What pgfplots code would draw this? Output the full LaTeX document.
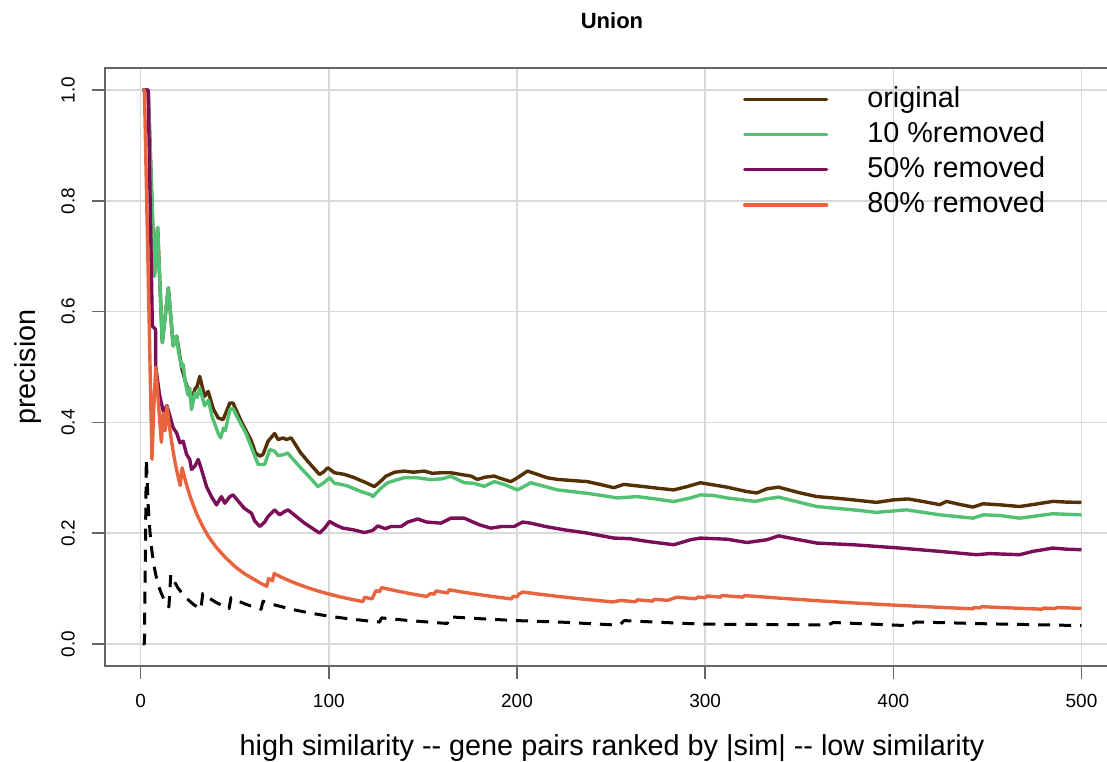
\documentclass[border=0pt]{standalone}
\usepackage{fontspec}
\setmainfont{Liberation Sans}
\usepackage{pgfplots}
\pgfplotsset{compat=1.18}

\definecolor{origc}{HTML}{543005}
\definecolor{tenc}{HTML}{52C272}
\definecolor{fiftyc}{HTML}{7A0E58}
\definecolor{eightyc}{HTML}{E8643E}
\definecolor{gridc}{HTML}{D9D9D9}
\definecolor{framec}{HTML}{666666}

\begin{document}
\begin{tikzpicture}
\begin{axis}[
  at={(105pt,95pt)}, anchor=south west,
  scale only axis, width=1014pt, height=598pt,
  xmin=-18.96, xmax=519.96, ymin=-0.04, ymax=1.04,
  xtick={0,100,200,300,400,500},
  ytick={0,0.2,0.4,0.6,0.8,1.0},
  grid=major, major grid style={gridc, line width=1.4pt},
  axis line style={framec, line width=1.6pt},
  tick style={framec, line width=1.4pt},
  tick align=outside, major tick length=13pt,
  xtick pos=bottom, ytick pos=left,
  tick label style={font=\fontsize{19}{22}\selectfont},
  /pgf/number format/assume math mode=true,
  xticklabel style={yshift=-12pt},
  yticklabel style={/pgf/number format/.cd, fixed, fixed zerofill, precision=1, /tikz/.cd,
                    xshift=-17pt, rotate=90, anchor=south, inner sep=0pt},
  legend style={at={(axis cs:320.1,1.0154)}, anchor=north west,
                draw=none, fill=none, inner sep=0pt, outer sep=0pt, row sep=0pt,
                font=\fontsize{28.8}{32}\selectfont,
                nodes={inner sep=0pt, text height=23.9pt, text depth=7.9pt}},
  legend cell align=left,
  legend image code/.code={%
    \path (0pt,-15.9pt) (121pt,15.9pt);
    \draw[#1, line cap=round] (0pt,0pt) -- (82pt,0pt);},
  every axis plot/.append style={line join=round},
]

% original
\addplot[origc, line width=3.4pt] coordinates {
(1,1) (4,1) (7.3,0.664) (9,0.752) (11.5,0.544) (14.7,0.643) (17.3,0.538) (19.1,0.556)
(21.7,0.50) (23.5,0.477) (27,0.44) (28.8,0.46) (30,0.465) (31.4,0.483) (34,0.447)
(35.9,0.456) (38.5,0.425) (41.2,0.408) (43.8,0.405) (47.4,0.435) (49.1,0.435) (53,0.405)
(58.9,0.366) (61,0.345) (63.3,0.339) (65,0.342) (67.7,0.366) (71.2,0.38) (73,0.369)
(75.7,0.372) (77.4,0.369) (80,0.372) (85,0.345) (90,0.325) (95,0.306) (97,0.31)
(99.5,0.318) (103,0.309) (108.3,0.306) (113.6,0.30) (119.8,0.291) (124.2,0.284)
(127,0.292) (130.4,0.303) (135,0.31) (140.1,0.312) (145,0.31) (150.7,0.312) (155,0.308)
(159.6,0.309) (164.9,0.309) (170,0.306) (175.5,0.303) (179,0.297) (183,0.301)
(187.9,0.303) (192,0.298) (196.7,0.293) (200.3,0.30) (205.6,0.312) (210.9,0.306)
(216,0.30) (221.5,0.297) (229,0.295) (237.4,0.293) (244,0.288) (251.5,0.282)
(256.8,0.288) (262,0.286) (267.4,0.284) (275,0.281) (283.3,0.278) (290.4,0.284)
(297.5,0.291) (304.5,0.287) (311.6,0.283) (322.2,0.275) (327.5,0.2725) (332.8,0.28)
(339,0.283) (350,0.273) (359.3,0.266) (370,0.263) (378.7,0.26) (391.1,0.2555)
(400,0.26) (407.9,0.2617) (416,0.257) (424.7,0.2514) (428.3,0.2573) (435,0.252)
(442.4,0.247) (447.7,0.253) (457,0.251) (467.1,0.248) (475,0.252) (484.8,0.2573)
(492,0.256) (500,0.2555)
};
\addlegendentry{original}

% 10% removed
\addplot[tenc, line width=3.4pt] coordinates {
(1,1) (4,1) (7.3,0.664) (9,0.752) (11.5,0.544) (14.7,0.643) (17.3,0.538) (19.1,0.556)
(20,0.53) (21.7,0.50) (22.6,0.505) (23.5,0.477) (25,0.45) (26.1,0.462) (27,0.423)
(28.8,0.453) (30,0.445) (31.4,0.462) (34,0.43) (36,0.44) (38,0.41) (41.2,0.38)
(42.5,0.372) (44,0.39) (45,0.385) (47.4,0.423) (49.1,0.425) (52,0.405) (56,0.38)
(60,0.345) (62.4,0.324) (65.9,0.324) (68.6,0.351) (71.2,0.348) (73,0.34) (76.5,0.342)
(78,0.345) (85,0.318) (90,0.30) (94.2,0.284) (97,0.29) (100.4,0.30) (103,0.29)
(106.6,0.288) (110,0.285) (117.2,0.275) (122.5,0.269) (123.4,0.266) (127.8,0.2815)
(131.3,0.291) (135,0.295) (140.1,0.30) (147,0.30) (154.3,0.2965) (160,0.298)
(164.9,0.3025) (172,0.291) (177,0.29) (182.6,0.2845) (187.9,0.293) (193,0.288)
(200.3,0.278) (207.3,0.291) (214,0.285) (221.5,0.278) (237,0.272) (245,0.268)
(253.3,0.2635) (263.9,0.266) (275,0.261) (283.3,0.257) (292.2,0.2635) (297.5,0.269)
(304.5,0.268) (311.6,0.2635) (326.6,0.2573) (333,0.262) (339,0.265) (359.3,0.248)
(378.7,0.242) (391.1,0.2375) (400,0.24) (407,0.242) (424.7,0.233) (442.4,0.227)
(447.7,0.233) (456,0.232) (467.1,0.227) (474,0.23) (484.8,0.235) (492,0.234) (500,0.233)
};
\addlegendentry{10 \%removed}

% 50% removed
\addplot[fiftyc, line width=3.4pt] coordinates {
(1,1) (4,1) (6.2,0.574) (7.9,0.568) (8,0.501) (10,0.45) (12,0.42) (14,0.43)
(17.3,0.39) (19.1,0.381) (20.9,0.363) (22.6,0.366) (24.4,0.342) (26.1,0.333) (27,0.315)
(28.8,0.321) (30.6,0.333) (32.3,0.315) (35,0.284) (37.6,0.266) (40.3,0.251)
(42.9,0.266) (44.7,0.254) (47.4,0.266) (49.1,0.269) (55,0.245) (58.9,0.236)
(60.6,0.222) (63.3,0.212) (65.9,0.22) (67.7,0.230) (71.2,0.242) (73.9,0.233) (76,0.238)
(78.3,0.242) (87.1,0.218) (95.1,0.20) (98,0.21) (100.4,0.221) (104,0.214) (107.5,0.209)
(113,0.206) (118.9,0.201) (123.4,0.205) (126,0.213) (130,0.208) (133.1,0.212)
(138.4,0.212) (142,0.22) (147.2,0.2255) (152,0.22) (159.6,0.218) (164.9,0.227)
(172,0.227) (180,0.215) (186.1,0.209) (192,0.212) (198.5,0.212) (203,0.22) (207.3,0.218)
(215,0.212) (225,0.206) (237.4,0.20) (251.5,0.191) (260,0.19) (269.2,0.185)
(283.3,0.179) (292.2,0.188) (297.5,0.191) (311.6,0.189) (322.2,0.183) (332.8,0.188)
(339,0.195) (359.3,0.182) (378.7,0.179) (403.5,0.173) (424.7,0.167) (444.2,0.161)
(451.2,0.163) (467.1,0.161) (474.2,0.167) (484.8,0.173) (492,0.171) (500,0.17)
};
\addlegendentry{50\% removed}

% 80% removed
\addplot[eightyc, line width=3.4pt] coordinates {
(1,1) (2,1) (6,0.333) (7,0.429) (8,0.5) (11,0.364) (12,0.417) (13,0.385) (14,0.429)
(15,0.4) (16,0.375) (17,0.353) (18,0.333) (19,0.316) (20,0.3) (21,0.286) (22,0.318)
(24,0.292) (26,0.269) (28,0.25) (30,0.233) (33,0.212) (36,0.194) (40,0.175) (45,0.156)
(50,0.14) (55,0.127) (60,0.117) (64,0.109) (67,0.104) (68,0.118) (70,0.114) (71,0.127)
(75,0.12) (80,0.1125) (85,0.106) (90,0.1) (95,0.0947) (100,0.09) (106,0.0849)
(112,0.0804) (118,0.0763) (119,0.084) (123,0.0813) (124,0.0887) (125,0.096)
(127,0.0945) (128,0.1016) (135,0.0963) (142,0.0915) (152,0.0855) (154,0.0909)
(156,0.0897) (157,0.0955) (163,0.092) (164,0.0976) (170,0.0941) (177,0.0904)
(184,0.087) (190,0.0842) (197,0.0812) (198,0.0859) (200,0.085) (201,0.0896)
(203,0.0936) (210,0.0905) (220,0.0864) (230,0.0826) (237,0.0802) (245,0.0776)
(251,0.0757) (255,0.0784) (263,0.076) (264,0.0795) (272,0.0772) (273,0.0806)
(280,0.0786) (285,0.0842) (295,0.0814) (296,0.0845) (300,0.0833) (301,0.0864)
(308,0.0844) (309,0.0874) (320,0.0844) (321,0.0872) (328,0.0854) (340,0.0824)
(360,0.0778) (380,0.0737) (400,0.07) (420,0.0667) (442,0.0633) (443,0.0655)
(446,0.065) (447,0.0671) (460,0.0652) (479,0.0626) (480,0.0646) (486,0.0638)
(487,0.0657) (500,0.064)
};
\addlegendentry{80\% removed}

% random baseline
\addplot[black, line width=3pt, dash pattern=on 12pt off 9pt, forget plot] coordinates {
(1,0) (2,0) (3,0.333) (4,0.25) (5,0.2) (6,0.167) (7,0.143) (8,0.125) (9,0.111)
(10,0.1) (11,0.0909) (12,0.0833) (13,0.0769) (15,0.0667) (16,0.125) (17,0.1176)
(20,0.1) (24,0.0833) (28,0.0714) (32,0.0625) (33,0.0909) (36,0.0833) (40,0.075)
(44,0.068) (47,0.0638) (48,0.0833) (52,0.0769) (56,0.0714) (60,0.0667) (64,0.0625)
(65,0.0769) (70,0.0714) (80,0.0625) (90,0.0556) (100,0.05) (110,0.0455) (120,0.0417)
(127,0.0394) (128,0.0469) (140,0.0429) (156,0.0385) (163,0.0368) (164,0.0488)
(180,0.0455) (200,0.042) (225,0.039) (251,0.0343) (255,0.0353) (257,0.042)
(278,0.0386) (300,0.0355) (330,0.035) (365,0.0343) (367,0.0367) (368,0.0386)
(407,0.033) (410,0.0366) (412,0.0395) (450,0.0362) (500,0.033)
};
\end{axis}

% titles and axis labels
\node[anchor=base, font=\fontsize{22}{25}\selectfont\bfseries] at (612pt,732pt) {Union};
\node[anchor=base, font=\fontsize{28.8}{32}\selectfont] at (612pt,6pt)
  {high similarity {-}{-} gene pairs ranked by |sim| {-}{-} low similarity};
\node[anchor=base, rotate=90, font=\fontsize{28.8}{32}\selectfont] at (35pt,394pt) {precision};

\pgfresetboundingbox
\useasboundingbox (0,0) rectangle (1107pt,761pt);
\end{tikzpicture}
\end{document}
